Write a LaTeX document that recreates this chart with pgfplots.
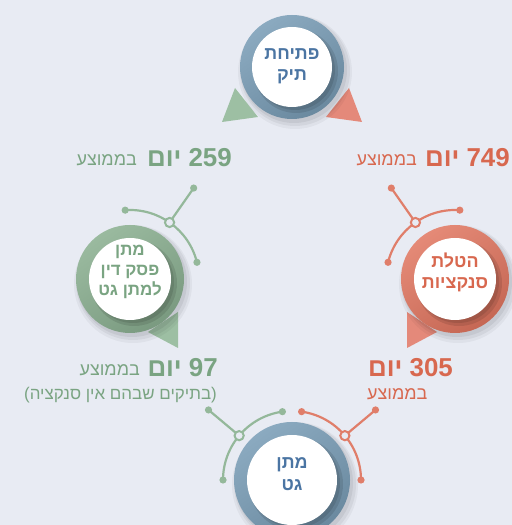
\documentclass[border=0pt]{standalone}
\usepackage{fontspec}
\usepackage{pgfplots}
\pgfplotsset{compat=1.18}
\TeXXeTstate=1
\setmainfont{Liberation Sans}
\newfontfamily\heb[Script=Hebrew]{Liberation Sans}
\newcommand\R[1]{\beginR#1\endR}

\definecolor{bg}{HTML}{E8EBF3}
\definecolor{blueA}{HTML}{8BAAC0}
\definecolor{blueB}{HTML}{6A899F}
\definecolor{bluetext}{HTML}{4B75A3}
\definecolor{greenA}{HTML}{9ABA9F}
\definecolor{greenB}{HTML}{7A9A80}
\definecolor{greentext}{HTML}{7AA482}
\definecolor{redA}{HTML}{E58A77}
\definecolor{redB}{HTML}{C56754}
\definecolor{redtext}{HTML}{D8684F}
\definecolor{greentri}{HTML}{9DBFA3}
\definecolor{redtri}{HTML}{E4897A}
\definecolor{greenline}{HTML}{94B89A}
\definecolor{redline}{HTML}{E07E6A}

% stage: cx, cy, outer r, inner r, ring light, ring dark
\newcommand\stage[6]{%
  \fill[black,opacity=0.04] (axis cs:#1+3,#2-5) circle[radius=#3+5];
  \fill[black,opacity=0.05] (axis cs:#1+3,#2-4) circle[radius=#3+3];
  \fill[black,opacity=0.06] (axis cs:#1+2,#2-3) circle[radius=#3+1];
  \shade[top color=#5, bottom color=#6, shading angle=35]
    (axis cs:#1,#2) circle[radius=#3];
  \fill[black,opacity=0.10] (axis cs:#1+4,#2-4) circle[radius=#4+2];
  \fill[black,opacity=0.10] (axis cs:#1+3,#2-3) circle[radius=#4];
  \fill[white] (axis cs:#1,#2) circle[radius=#4];
}
% connector: cx, cy, r, a1, a2, ah, rl, colour
\newcommand\connector[8]{%
  \draw[#8, line width=2.2bp]
    (axis cs:{#1+#3*cos(#4)},{#2+#3*sin(#4)}) arc[start angle=#4, end angle=#5, radius=#3];
  \draw[#8, line width=2.2bp]
    (axis cs:{#1+#3*cos(#6)},{#2+#3*sin(#6)}) -- (axis cs:{#1+#7*cos(#6)},{#2+#7*sin(#6)});
  \fill[#8] (axis cs:{#1+#3*cos(#4)},{#2+#3*sin(#4)}) circle[radius=3.6];
  \fill[#8] (axis cs:{#1+#3*cos(#5)},{#2+#3*sin(#5)}) circle[radius=3.6];
  \fill[#8] (axis cs:{#1+#7*cos(#6)},{#2+#7*sin(#6)}) circle[radius=3.6];
  \filldraw[fill=bg, draw=#8, line width=2bp]
    (axis cs:{#1+#3*cos(#6)},{#2+#3*sin(#6)}) circle[radius=4.6];
}

\begin{document}
\begin{tikzpicture}
\begin{axis}[
  x=1bp, y=1bp, scale only axis,
  xmin=0, xmax=512, ymin=0, ymax=525,
  hide axis, clip=true]

\coordinate (A) at (axis cs:0,0);
\coordinate (B) at (axis cs:512,525);
\fill[bg] (axis cs:0,0) rectangle (axis cs:512,525);

% ---- triangles ----
\fill[greentri] (axis cs:222,403) -- (axis cs:258,408) -- (axis cs:235,437) -- cycle;
\fill[redtri]   (axis cs:362,403) -- (axis cs:326,408) -- (axis cs:349,437) -- cycle;
\fill[greentri] (axis cs:148,193) -- (axis cs:178,213) -- (axis cs:178,177) -- cycle;
\fill[redtri]   (axis cs:437,193) -- (axis cs:407,213) -- (axis cs:407,177) -- cycle;

% ---- connectors ----
\connector{130}{246}{69}{94}{14}{55}{111}{greenline}
\connector{455}{246}{69}{86}{166}{125}{111}{redline}
\connector{292}{45}{69}{98}{180}{140}{109}{greenline}
\connector{292}{45}{69}{82}{0}{40}{109}{redline}

% ---- stages ----
\stage{292}{458}{52}{40}{blueA}{blueB}
\stage{130}{246}{54}{41}{greenA}{greenB}
\stage{455}{246}{54}{41}{redA}{redB}
\stage{292}{45}{58}{45}{blueA}{blueB}

\node[align=center, text=bluetext, font=\heb\bfseries\fontsize{18}{21}\selectfont]
  at (axis cs:292,459) {פתיחת\\תיק};
\node[align=center, text=greentext, font=\heb\bfseries\fontsize{17}{20}\selectfont]
  at (axis cs:130,253) {מתן\\\R{פסק דין}\\\R{למתן גט}};
\node[align=center, text=redtext, font=\heb\bfseries\fontsize{18}{21}\selectfont]
  at (axis cs:455,253) {הטלת\\סנקציות};
\node[align=center, text=bluetext, font=\heb\bfseries\fontsize{18}{22}\selectfont]
  at (axis cs:292,51) {מתן\\גט};

% ---- values ----
\node[anchor=base east, inner sep=0, text=redtext, font=\heb\bfseries\fontsize{26}{28}\selectfont]
  at (axis cs:510,358) {\R{749 יום}};
\node[anchor=base east, inner sep=0, text=redtext, font=\heb\fontsize{18}{20}\selectfont]
  at (axis cs:417,359) {בממוצע};

\node[anchor=base east, inner sep=0, text=greentext, font=\heb\bfseries\fontsize{26}{28}\selectfont]
  at (axis cs:232,358) {\R{259 יום}};
\node[anchor=base east, inner sep=0, text=greentext, font=\heb\fontsize{18}{20}\selectfont]
  at (axis cs:137,359) {בממוצע};

\node[anchor=base east, inner sep=0, text=greentext, font=\heb\bfseries\fontsize{26}{28}\selectfont]
  at (axis cs:218,148) {\R{97 יום}};
\node[anchor=base east, inner sep=0, text=greentext, font=\heb\fontsize{18}{20}\selectfont]
  at (axis cs:140,149) {בממוצע};
\node[anchor=base east, inner sep=0, text=greentext, font=\heb\fontsize{17}{20}\selectfont]
  at (axis cs:217,125) {\R{(בתיקים שבהם אין סנקציה)}};

\node[anchor=base west, inner sep=0, text=redtext, font=\heb\bfseries\fontsize{26}{28}\selectfont]
  at (axis cs:368,148) {\R{305 יום}};
\node[anchor=base west, inner sep=0, text=redtext, font=\heb\fontsize{18}{20}\selectfont]
  at (axis cs:367,125) {בממוצע};
\end{axis}
\pgfresetboundingbox
\path[use as bounding box] (A) rectangle (B);
\end{tikzpicture}
\end{document}
